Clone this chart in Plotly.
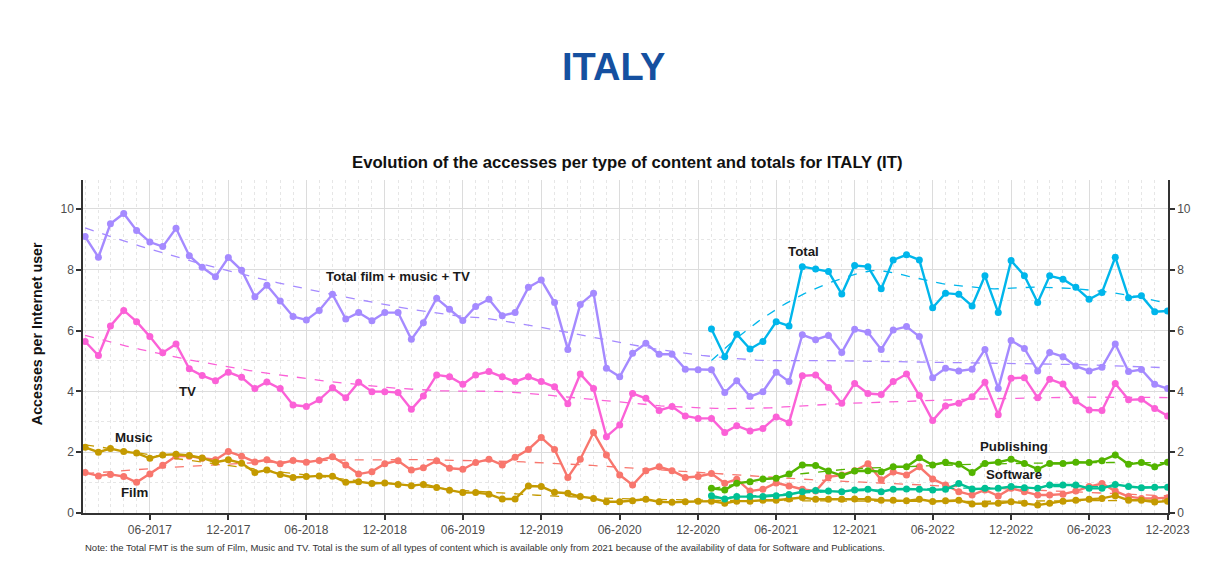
import numpy as np
import pandas as pd
import plotly.graph_objects as go

# ---------------- data (monthly, Jan 2017 - Dec 2023) ----------------
start_month = "2017-01-01"
end_month = "2023-12-01"

total_fmt = [9.09, 8.41, 9.51, 9.85, 9.29, 8.91, 8.76, 9.36, 8.46, 8.08, 7.77, 8.40,
             7.98, 7.11, 7.49, 6.97, 6.46, 6.35, 6.66, 7.19, 6.38, 6.59, 6.32, 6.59,
             6.59, 5.71, 6.26, 7.06, 6.70, 6.33, 6.79, 7.03, 6.49, 6.59, 7.42, 7.66,
             6.92, 5.38, 6.86, 7.23, 4.76, 4.48, 5.25, 5.58, 5.22, 5.22, 4.73, 4.71,
             4.71, 3.96, 4.35, 3.83, 3.99, 4.63, 4.32, 5.86, 5.70, 5.84, 5.28, 6.04,
             5.94, 5.38, 6.02, 6.13, 5.80, 4.45, 4.76, 4.67, 4.73, 5.38, 4.09, 5.67,
             5.41, 4.67, 5.28, 5.14, 4.83, 4.67, 4.79, 5.56, 4.65, 4.72, 4.23, 4.09]

tv = [5.64, 5.18, 6.15, 6.66, 6.29, 5.80, 5.27, 5.56, 4.74, 4.52, 4.35, 4.63,
      4.46, 4.09, 4.31, 4.09, 3.55, 3.50, 3.72, 4.12, 3.79, 4.30, 3.99, 3.99,
      3.96, 3.41, 3.85, 4.54, 4.48, 4.23, 4.54, 4.65, 4.48, 4.32, 4.48, 4.32,
      4.15, 3.59, 4.57, 4.09, 2.51, 2.89, 3.93, 3.77, 3.37, 3.50, 3.19, 3.11,
      3.11, 2.65, 2.87, 2.70, 2.78, 3.16, 2.97, 4.51, 4.54, 4.13, 3.61, 4.26,
      3.93, 3.90, 4.32, 4.57, 3.86, 3.04, 3.52, 3.61, 3.82, 4.30, 3.23, 4.43,
      4.45, 3.79, 4.40, 4.24, 3.68, 3.39, 3.37, 4.26, 3.72, 3.74, 3.44, 3.19]

film = [1.33, 1.22, 1.27, 1.20, 1.01, 1.28, 1.57, 1.87, 1.87, 1.80, 1.75, 2.02,
        1.87, 1.68, 1.75, 1.62, 1.73, 1.67, 1.73, 1.85, 1.58, 1.28, 1.36, 1.62,
        1.72, 1.41, 1.49, 1.72, 1.47, 1.44, 1.66, 1.77, 1.58, 1.83, 2.09, 2.48,
        2.09, 1.17, 1.77, 2.65, 1.91, 1.25, 0.92, 1.39, 1.52, 1.39, 1.17, 1.20,
        1.30, 0.98, 1.11, 0.72, 0.78, 0.99, 0.89, 0.78, 0.72, 1.19, 1.25, 1.39,
        1.62, 1.09, 1.35, 1.25, 1.52, 1.12, 0.92, 0.70, 0.59, 0.76, 0.56, 0.81,
        0.70, 0.59, 0.59, 0.62, 0.72, 0.87, 0.97, 0.72, 0.54, 0.48, 0.48, 0.50]

music = [2.16, 2.00, 2.12, 2.02, 1.97, 1.80, 1.91, 1.93, 1.89, 1.81, 1.67, 1.75,
         1.64, 1.33, 1.41, 1.27, 1.17, 1.20, 1.22, 1.21, 1.01, 1.03, 0.97, 0.99,
         0.94, 0.90, 0.94, 0.84, 0.75, 0.67, 0.67, 0.62, 0.46, 0.46, 0.89, 0.87,
         0.68, 0.65, 0.54, 0.48, 0.37, 0.37, 0.40, 0.45, 0.37, 0.35, 0.37, 0.39,
         0.39, 0.32, 0.39, 0.39, 0.42, 0.42, 0.46, 0.51, 0.45, 0.45, 0.45, 0.46,
         0.45, 0.42, 0.42, 0.40, 0.45, 0.38, 0.40, 0.42, 0.30, 0.30, 0.32, 0.37,
         0.32, 0.26, 0.32, 0.39, 0.42, 0.45, 0.48, 0.57, 0.42, 0.42, 0.36, 0.39]

# available only from Jan 2021
start_2021 = "2021-01-01"
total = [6.05, 5.14, 5.88, 5.39, 5.64, 6.29, 6.15, 8.10, 8.02, 7.94, 7.20, 8.14,
         8.10, 7.37, 8.32, 8.49, 8.32, 6.75, 7.23, 7.19, 6.81, 7.80, 6.59, 8.30,
         7.80, 6.92, 7.80, 7.69, 7.42, 7.03, 7.25, 8.41, 7.08, 7.14, 6.62, 6.64]

publishing = [0.81, 0.76, 0.98, 1.03, 1.12, 1.14, 1.28, 1.58, 1.56, 1.38, 1.23, 1.38,
              1.39, 1.36, 1.52, 1.52, 1.82, 1.58, 1.67, 1.60, 1.33, 1.63, 1.67, 1.77,
              1.63, 1.44, 1.63, 1.63, 1.67, 1.66, 1.72, 1.91, 1.60, 1.66, 1.52, 1.67]

software = [0.57, 0.46, 0.54, 0.54, 0.54, 0.57, 0.61, 0.70, 0.74, 0.72, 0.70, 0.76,
            0.78, 0.70, 0.78, 0.79, 0.78, 0.76, 0.78, 0.97, 0.79, 0.81, 0.81, 0.87,
            0.83, 0.81, 0.92, 0.92, 0.92, 0.81, 0.81, 0.94, 0.87, 0.83, 0.85, 0.85]

tick_labels = ["06-2017", "12-2017", "06-2018", "12-2018", "06-2019", "12-2019",
               "06-2020", "12-2020", "06-2021", "12-2021", "06-2022", "12-2022",
               "06-2023", "12-2023"]
y_ticks = [0, 2, 4, 6, 8, 10]

colors = {
    "Film": "#F8766D", "Music": "#C49A00", "Publishing": "#53B400",
    "Software": "#00C094", "Total": "#00B6EB", "Total FMT": "#A58AFF", "TV": "#FB61D7",
}

# ---------------- helpers ----------------
dates_all = pd.date_range(start_month, end_month, freq="MS")
dates_21 = pd.date_range(start_2021, end_month, freq="MS")


def loess(dates, values, span=0.75, npts=80):
    t0 = dates[0]
    x = np.array([(d - t0).days for d in dates], dtype=float)
    y = np.asarray(values, dtype=float)
    n = len(x)
    q = int(np.floor(n * span))
    xs = np.linspace(x.min(), x.max(), npts)
    ys = []
    for x0 in xs:
        d = np.abs(x - x0)
        h = np.sort(d)[q - 1]
        w = np.clip(1 - (d / h) ** 3, 0, None) ** 3
        X = np.vstack([np.ones(n), x - x0, (x - x0) ** 2]).T
        W = np.diag(w)
        beta = np.linalg.solve(X.T @ W @ X, X.T @ W @ y)
        ys.append(beta[0])
    xd = t0 + pd.to_timedelta(xs, unit="D")
    return xd, np.array(ys)


series = [
    ("Film", dates_all, film, "y"),
    ("Music", dates_all, music, "y"),
    ("Publishing", dates_21, publishing, "y"),
    ("Software", dates_21, software, "y"),
    ("Total", dates_21, total, "y2"),
    ("Total FMT", dates_all, total_fmt, "y"),
    ("TV", dates_all, tv, "y"),
]

fig = go.Figure()
for name, d, v, ax in series:
    fig.add_trace(go.Scatter(
        x=d, y=v, mode="lines+markers", name=name, yaxis=ax,
        line=dict(color=colors[name], width=2.4),
        marker=dict(color=colors[name], size=7),
        showlegend=False,
    ))
    xd, ys = loess(d, v)
    fig.add_trace(go.Scatter(
        x=xd, y=ys, mode="lines", yaxis=ax,
        line=dict(color=colors[name], width=1.3, dash="dash"),
        showlegend=False, hoverinfo="skip",
    ))

tick_vals = [pd.to_datetime("01-" + t, format="%d-%m-%Y") for t in tick_labels]

font_family = "Liberation Sans, Arial, sans-serif"
axis_col = "#333333"
grid_major = "#dcdcdc"
grid_minor = "#e6e6e6"
yr = [0, 10.95]

fig.update_layout(
    width=1219, height=558,
    margin=dict(l=75, r=59, t=172, b=53),
    paper_bgcolor="white", plot_bgcolor="white",
    font=dict(family=font_family, color="#4d4d4d"),
    xaxis=dict(
        range=["2016-12-27", "2023-12-02"],
        tickmode="array", tickvals=tick_vals, ticktext=tick_labels,
        tickfont=dict(size=12, color="#4d4d4d"),
        showgrid=True, gridcolor=grid_major, gridwidth=1,
        showline=True, linecolor=axis_col, linewidth=1.5,
        ticks="outside", ticklen=5, tickwidth=1.5, tickcolor=axis_col,
        zeroline=False,
        minor=dict(tick0="2017-01-01", dtick="M1", showgrid=True,
                   gridcolor=grid_minor, griddash="dot", gridwidth=1, ticks=""),
    ),
    yaxis=dict(
        range=yr, tickvals=y_ticks,
        tickfont=dict(size=12, color="#4d4d4d"),
        showgrid=True, gridcolor=grid_major, gridwidth=1,
        showline=True, linecolor=axis_col, linewidth=1.5,
        ticks="outside", ticklen=5, tickwidth=1.5, tickcolor=axis_col,
        zeroline=False,
        minor=dict(dtick=1, tick0=0, showgrid=True, gridcolor=grid_minor,
                   griddash="dot", gridwidth=1, ticks=""),
    ),
    yaxis2=dict(
        range=yr, tickvals=y_ticks, overlaying="y", side="right",
        tickfont=dict(size=12, color="#4d4d4d"),
        showgrid=False, showline=True, linecolor=axis_col, linewidth=1.5,
        ticks="outside", ticklen=5, tickwidth=1.5, tickcolor=axis_col,
        zeroline=False,
    ),
)

ann = []
ann.append(dict(text="<b>ITALY</b>", xref="paper", yref="paper", x=0.4885, y=1.339,
                xanchor="center", yanchor="middle",
                showarrow=False, font=dict(size=38, color="#1550A0", family=font_family)))
ann.append(dict(text="<b>Evolution of the accesses per type of content and totals for ITALY (IT)</b>",
                xref="paper", yref="paper", x=0.501, y=1.054, showarrow=False,
                xanchor="center", yanchor="middle",
                font=dict(size=16.7, color="#111111", family=font_family)))
ann.append(dict(text="<b>Accesses per Internet user</b>", xref="paper", yref="paper",
                x=-0.0424, y=0.54, textangle=-90, showarrow=False,
                xanchor="center", yanchor="middle",
                font=dict(size=14.3, color="#111111", family=font_family)))
ann.append(dict(text="Note: the Total FMT is the sum of Film, Music and TV. Total is the sum of all types of content which is available only from 2021 because of the availability of data for Software and Publications.",
                xref="paper", yref="paper", x=0.0, y=-0.105, xanchor="left", yanchor="middle",
                showarrow=False,
                font=dict(size=9.5, color="#333333", family=font_family)))

labels = [
    ("Total film + music + TV", "2019-01-01", 7.78),
    ("TV", "2017-08-28", 4.0),
    ("Music", "2017-04-25", 2.48),
    ("Film", "2017-04-25", 0.69),
    ("Total", "2021-08-04", 8.6),
    ("Publishing", "2022-12-07", 2.18),
    ("Software", "2022-12-07", 1.28),
]
for txt, xd, yv in labels:
    ann.append(dict(text="<b>" + txt + "</b>", x=xd, y=yv, xref="x", yref="y",
                    xanchor="center", yanchor="middle",
                    showarrow=False, font=dict(size=13.3, color="#1a1a1a", family=font_family)))

fig.update_layout(annotations=ann)
fig.write_html("out.html")
